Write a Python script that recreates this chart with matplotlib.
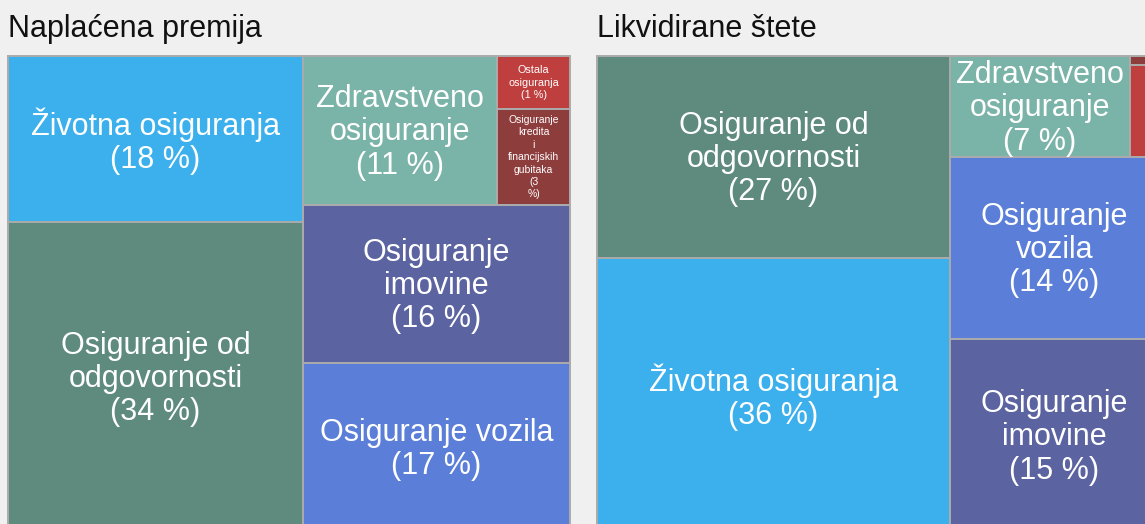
import matplotlib
matplotlib.use("Agg")
import matplotlib.pyplot as plt
from matplotlib.patches import Rectangle

plt.rcParams['font.family'] = ['Liberation Sans', 'DejaVu Sans']

# ---------------- data ----------------
categories = [
    "Životna osiguranja",
    "Osiguranje od odgovornosti",
    "Zdravstveno osiguranje",
    "Ostala osiguranja",
    "Osiguranje kredita i financijskih gubitaka",
    "Osiguranje imovine",
    "Osiguranje vozila",
]
colors = ["#3cb0ec", "#5e8b7e", "#7ab3a7", "#bf3f3f", "#8e3d3d", "#5b63a0", "#5b7fd8"]

premija_values = [18.3, 34.2, 10.8, 1.45, 2.6, 15.8, 16.8]
stete_values = [36.1, 26.7, 6.8, 1.0, 0.1, 15.1, 14.2]

# grouping (indices into categories) used by the slice-and-dice layout
premija_tree = [[0, 1], [[2, [3, 4]], 5, 6]]
stete_tree = [[1, 0], [[2, [4, 3]], 6, 5]]

# wrapped display names (None = no label, box too small)
premija_names = ["Životna osiguranja", "Osiguranje od\nodgovornosti", "Zdravstveno\nosiguranje",
                 "Ostala\nosiguranja", "Osiguranje\nkredita\ni\nfinancijskih\ngubitaka",
                 "Osiguranje\nimovine", "Osiguranje vozila"]
premija_pct_break = [False, False, False, False, True, False, False]
premija_fontsize = [22, 22, 22, 7.8, 7.5, 22, 22]

stete_names = ["Životna osiguranja", "Osiguranje od\nodgovornosti", "Zdravstveno\nosiguranje",
               None, None, "Osiguranje\nimovine", "Osiguranje\nvozila"]
stete_pct_break = [False] * 7
stete_fontsize = [22, 22, 22, 7.5, 7.5, 22, 22]

titles = ["Naplaćena premija", "Likvidirane štete"]

# ---------------- layout ----------------
def node_total(node, values):
    if isinstance(node, list):
        return sum(node_total(c, values) for c in node)
    return values[node]


def layout(node, values, x, y, w, h, horizontal, out):
    if not isinstance(node, list):
        out[node] = (x, y, w, h)
        return
    tot = node_total(node, values)
    pos = 0.0
    for child in node:
        frac = node_total(child, values) / tot
        if horizontal:
            layout(child, values, x + pos * w, y, w * frac, h, not horizontal, out)
        else:
            layout(child, values, x, y + pos * h, w, h * frac, not horizontal, out)
        pos += frac


W_FIG, H_FIG = 1145, 524
fig = plt.figure(figsize=(W_FIG / 100, H_FIG / 100), dpi=100, facecolor="#f0f0f0")

panels = [
    (8, premija_values, premija_tree, premija_names, premija_pct_break, premija_fontsize),
    (597, stete_values, stete_tree, stete_names, stete_pct_break, stete_fontsize),
]

for (left_px, values, tree, names, pct_break, fsizes), title in zip(panels, titles):
    ax = fig.add_axes([left_px / W_FIG, -8 / H_FIG, 562 / W_FIG, 476 / H_FIG])
    ax.set_xlim(0, 1)
    ax.set_ylim(1, 0)
    ax.axis("off")
    rects = {}
    layout(tree, values, 0, 0, 1, 1, True, rects)
    for i, (x, y, w, h) in rects.items():
        ax.add_patch(Rectangle((x, y), w, h, facecolor=colors[i], edgecolor="#ababab",
                               linewidth=1.4, clip_on=False))
        if names[i] is None:
            continue
        sep = "\n" if pct_break[i] else " "
        label = f"{names[i]}\n({values[i]:.0f}{sep}%)"
        ax.text(x + w / 2, y + h / 2 + (0.004 if fsizes[i] > 10 else 0), label,
                ha="center", va="center", color="white",
                fontsize=fsizes[i], linespacing=1.14 if fsizes[i] > 10 else 1.3,
                multialignment="center")
    fig.text(left_px / W_FIG, 1 - 37 / H_FIG, title, ha="left", va="baseline",
             fontsize=22, color="#111111")

fig.savefig("out.png", dpi=100, facecolor=fig.get_facecolor())
